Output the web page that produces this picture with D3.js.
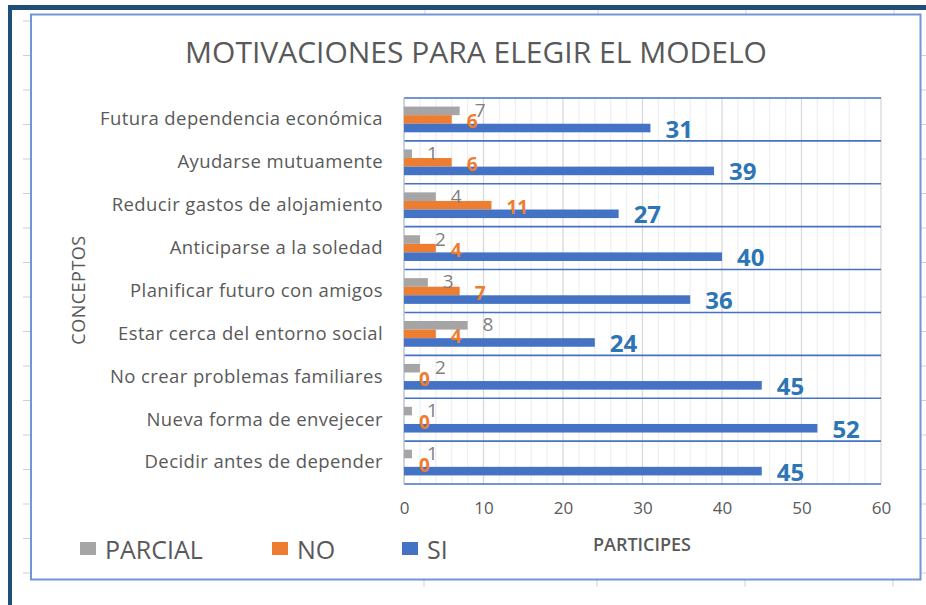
<!DOCTYPE html>
<html>
<head>
<meta charset="utf-8">
<script src="https://cdn.jsdelivr.net/npm/d3@7"></script>
<style>
  body { margin: 0; background: #fff; }
  svg { display: block; font-family: "Open Sans", sans-serif; }
</style>
</head>
<body>
<svg width="926" height="605"></svg>
<script>
// Categories, top to bottom as shown
var categories = [
  "Futura dependencia económica",
  "Ayudarse mutuamente",
  "Reducir gastos de alojamiento",
  "Anticiparse a la soledad",
  "Planificar futuro con amigos",
  "Estar cerca del entorno social",
  "No crear problemas familiares",
  "Nueva forma de envejecer",
  "Decidir antes de depender"
];
var parcial = [7, 1, 4, 2, 3, 8, 2, 1, 1];
var no = [6, 6, 11, 4, 7, 4, 0, 0, 0];
var si = [31, 39, 27, 40, 36, 24, 45, 52, 45];
var seriesNames = ["PARCIAL", "NO", "SI"];
var xTicks = [0, 10, 20, 30, 40, 50, 60];

var colors = {PARCIAL: "#A5A5A5", NO: "#ED7D31", SI: "#4472C4"};
var labelColors = {PARCIAL: "#7F7F7F", NO: "#ED7D31", SI: "#2E75B6"};

var svg = d3.select("svg");

// page frame (dark blue) and chart border
svg.append("rect").attr("x", 8).attr("y", 5).attr("width", 918).attr("height", 5).attr("fill", "#1F4E79");
svg.append("rect").attr("x", 8).attr("y", 5).attr("width", 4).attr("height", 600).attr("fill", "#1F4E79");

// small gray marks around the chart object
var sideMarks = d3.range(21, 580, 34.5);
svg.selectAll(".lmark").data(sideMarks).enter().append("line")
    .attr("x1", 23).attr("x2", 31).attr("y1", function(d) { return d; }).attr("y2", function(d) { return d; })
    .attr("stroke", "#CFCFCF").attr("stroke-width", 1);
svg.selectAll(".rmark").data(sideMarks.filter(function(d) { return d > 30; })).enter().append("line")
    .attr("x1", 921).attr("x2", 926).attr("y1", function(d) { return d; }).attr("y2", function(d) { return d; })
    .attr("stroke", "#CFCFCF").attr("stroke-width", 1);
var topMarks = [425, 598, 746, 894];
svg.selectAll(".tmark").data(topMarks).enter().append("line")
    .attr("x1", function(d) { return d; }).attr("x2", function(d) { return d; }).attr("y1", 10).attr("y2", 15)
    .attr("stroke", "#CFCFCF");
svg.selectAll(".bmark").data(topMarks).enter().append("line")
    .attr("x1", function(d) { return d - 1; }).attr("x2", function(d) { return d - 1; }).attr("y1", 580).attr("y2", 587)
    .attr("stroke", "#CFCFCF");

svg.append("rect").attr("x", 31).attr("y", 14.5).attr("width", 889.5).attr("height", 565)
    .attr("fill", "#fff").attr("stroke", "#7096D8").attr("stroke-width", 2);

// scales
var x = d3.scaleLinear().domain([0, 60]).range([404, 881]);
var y = d3.scaleBand().domain(categories).range([98, 484]);
var inner = d3.scaleBand().domain(seriesNames).range([0, y.bandwidth()]).paddingOuter(1);

// gridlines
svg.append("g").selectAll("line").data(x.ticks(30)).enter().append("line")
    .attr("x1", function(d) { return x(d); }).attr("x2", function(d) { return x(d); })
    .attr("y1", 98).attr("y2", 484)
    .attr("stroke", function(d) { return d % 10 === 0 ? "#D9D9D9" : "#F0F0F0"; })
    .attr("stroke-width", 1.3);

// category separators
var seps = categories.map(function(c) { return y(c); }).concat([484]);
svg.append("g").selectAll("line").data(seps).enter().append("line")
    .attr("x1", 404).attr("x2", 881)
    .attr("y1", function(d) { return d; }).attr("y2", function(d) { return d; })
    .attr("stroke", "#4472C4").attr("stroke-width", 1.6);

svg.append("line").attr("x1", 404).attr("x2", 404).attr("y1", 98).attr("y2", 484)
    .attr("stroke", "#BFC8DA").attr("stroke-width", 1.3);

// bars
var rows = [];
categories.forEach(function(c, i) {
  rows.push({cat: c, s: "PARCIAL", v: parcial[i]});
  rows.push({cat: c, s: "NO", v: no[i]});
  rows.push({cat: c, s: "SI", v: si[i]});
});

svg.append("g").selectAll("rect").data(rows).enter().append("rect")
    .attr("x", x(0))
    .attr("y", function(d) { return y(d.cat) + inner(d.s); })
    .attr("width", function(d) { return x(d.v) - x(0); })
    .attr("height", inner.bandwidth())
    .attr("fill", function(d) { return colors[d.s]; });

// value labels
var labelSize = {PARCIAL: 19, NO: 19, SI: 24};
var labelShift = {PARCIAL: -1, NO: 2, SI: 0};
svg.append("g").selectAll("text").data(rows).enter().append("text")
    .attr("x", function(d) { return x(d.v) + 15; })
    .attr("y", function(d) { return y(d.cat) + inner(d.s) + inner.bandwidth() / 2 + labelShift[d.s]; })
    .attr("dominant-baseline", "central")
    .attr("font-size", function(d) { return labelSize[d.s]; })
    .attr("font-weight", function(d) { return d.s === "PARCIAL" ? 400 : 700; })
    .attr("fill", function(d) { return labelColors[d.s]; })
    .text(function(d) { return d.v; });

// axes
var yAxis = svg.append("g").attr("transform", "translate(404,0)")
    .call(d3.axisLeft(y).tickSize(0).tickPadding(21));
yAxis.select(".domain").remove();
yAxis.selectAll("text").attr("font-size", 18.5).attr("fill", "#595959")
    .attr("font-family", "Open Sans, sans-serif").attr("letter-spacing", 0.4);

var xAxis = svg.append("g").attr("transform", "translate(0,484)")
    .call(d3.axisBottom(x).tickValues(xTicks).tickSize(0).tickPadding(18));
xAxis.select(".domain").remove();
xAxis.selectAll("text").attr("font-size", 17).attr("fill", "#595959")
    .attr("font-family", "Open Sans, sans-serif");

// titles
svg.append("text").attr("x", 476).attr("y", 63).attr("text-anchor", "middle")
    .attr("font-size", 30).attr("fill", "#595959")
    .text("MOTIVACIONES PARA ELEGIR EL MODELO");

svg.append("text").attr("transform", "translate(85,290) rotate(-90)").attr("text-anchor", "middle")
    .attr("font-size", 18).attr("fill", "#595959").attr("letter-spacing", 0.5)
    .text("CONCEPTOS");

svg.append("text").attr("x", 642).attr("y", 551).attr("text-anchor", "middle")
    .attr("font-size", 18).attr("font-weight", 600).attr("fill", "#595959")
    .text("PARTICIPES");

// legend
var legendX = [80, 272, 402];
var legend = svg.append("g").selectAll("g").data(seriesNames).enter().append("g")
    .attr("transform", function(d, i) { return "translate(" + legendX[i] + ",542)"; });
legend.append("rect").attr("width", 16).attr("height", 13).attr("fill", function(d) { return colors[d]; });
legend.append("text").attr("x", 25).attr("y", 6.5).attr("dominant-baseline", "central")
    .attr("font-size", 25).attr("fill", "#595959")
    .text(function(d) { return d; });
</script>
</body>
</html>
